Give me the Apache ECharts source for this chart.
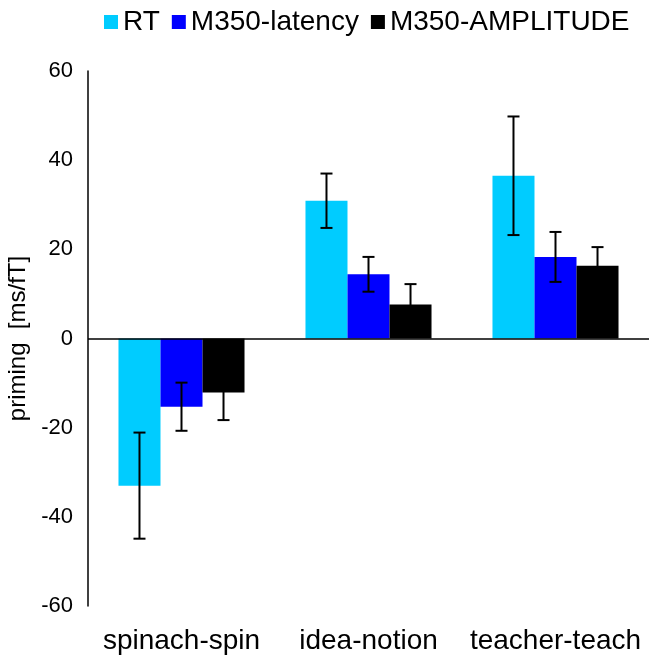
<!DOCTYPE html>
<html>
<head>
<meta charset="utf-8">
<script src="https://cdn.jsdelivr.net/npm/echarts@6/dist/echarts.min.js"></script>
<style>
  html, body { margin: 0; padding: 0; background: #fff; }
  #chart { width: 652px; height: 661px; }
</style>
</head>
<body>
<div id="chart"></div>
<script>
const categories = ['spinach-spin', 'idea-notion', 'teacher-teach']
const seriesNames = ['RT', 'M350-latency', 'M350-AMPLITUDE']
const colors = ['#00CCFF', '#0000FF', '#000000']

// means per category
const rtMean = [-33.0, 30.9, 36.5]
const latencyMean = [-15.3, 14.4, 18.3]
const amplitudeMean = [-12.1, 7.6, 16.3]

// error (+/-) per category
const rtErr = [11.9, 6.1, 13.3]
const latencyErr = [5.4, 3.9, 5.6]
const amplitudeErr = [6.2, 4.6, 4.2]

const means = [rtMean, latencyMean, amplitudeMean]
const errs = [rtErr, latencyErr, amplitudeErr]

const catGap = 0.326 // barCategoryGap as fraction

const font = 'Liberation Sans, Arial, sans-serif'

// error bar data: [category index, mean, err, series index]
const errData = []
means.forEach((m, s) => {
  m.forEach((v, i) => errData.push([i, v, errs[s][i], s]))
})

function renderError(params, api) {
  const cat = api.value(0)
  const mean = api.value(1)
  const err = api.value(2)
  const s = api.value(3)
  const band = api.size([1, 0])[0]
  const bw = band * (1 - catGap) / 3
  const x = api.coord([cat, 0])[0] + (s - 1) * bw
  const yHi = api.coord([cat, mean + err])[1]
  const yLo = api.coord([cat, mean - err])[1]
  const cap = 6
  const style = {stroke: '#000', lineWidth: 2}
  return {
    type: 'group',
    children: [
      {type: 'line', shape: {x1: x, y1: yHi, x2: x, y2: yLo}, style},
      {type: 'line', shape: {x1: x - cap, y1: yHi, x2: x + cap, y2: yHi}, style},
      {type: 'line', shape: {x1: x - cap, y1: yLo, x2: x + cap, y2: yLo}, style},
    ],
  }
}

const chart = echarts.init(document.getElementById('chart'))

const barSeries = seriesNames.map((name, s) => ({
  name,
  type: 'bar',
  data: means[s],
  barGap: '0%',
  barCategoryGap: (catGap * 100) + '%',
  itemStyle: {color: colors[s]},
  silent: true,
}))

// zero line across the plot
barSeries[0].markLine = {
  silent: true,
  symbol: 'none',
  label: {show: false},
  lineStyle: {color: '#000', width: 1.5, type: 'solid'},
  data: [{yAxis: 0}],
}

chart.setOption({
  animation: false,
  backgroundColor: '#fff',
  legend: {
    top: 3,
    left: 99,
    itemWidth: 14,
    itemHeight: 14,
    itemGap: 12,
    icon: 'rect',
    textStyle: {fontSize: 28, color: '#000', fontFamily: font},
    data: seriesNames,
  },
  grid: {left: 88, right: 3, top: 71, bottom: 55, outerBoundsMode: 'none', containLabel: false},
  xAxis: {
    type: 'category',
    data: categories,
    axisLine: {show: false},
    axisTick: {show: false},
    axisLabel: {fontSize: 28, color: '#000', fontFamily: font, margin: 21, interval: 0},
  },
  yAxis: {
    type: 'value',
    min: -60,
    max: 60,
    interval: 20,
    name: 'priming  [ms/fT]',
    nameLocation: 'middle',
    nameGap: 55,
    nameTextStyle: {fontSize: 24, color: '#000', fontFamily: font},
    axisLine: {show: true, lineStyle: {color: '#000', width: 1.5}},
    axisTick: {show: false},
    splitLine: {show: false},
    axisLabel: {fontSize: 22, color: '#000', fontFamily: font, margin: 15},
  },
  series: [
    ...barSeries,
    {
      type: 'custom',
      name: 'err',
      renderItem: renderError,
      data: errData,
      encode: {x: 0, y: 1},
      z: 10,
      silent: true,
    },
  ],
})
</script>
</body>
</html>
